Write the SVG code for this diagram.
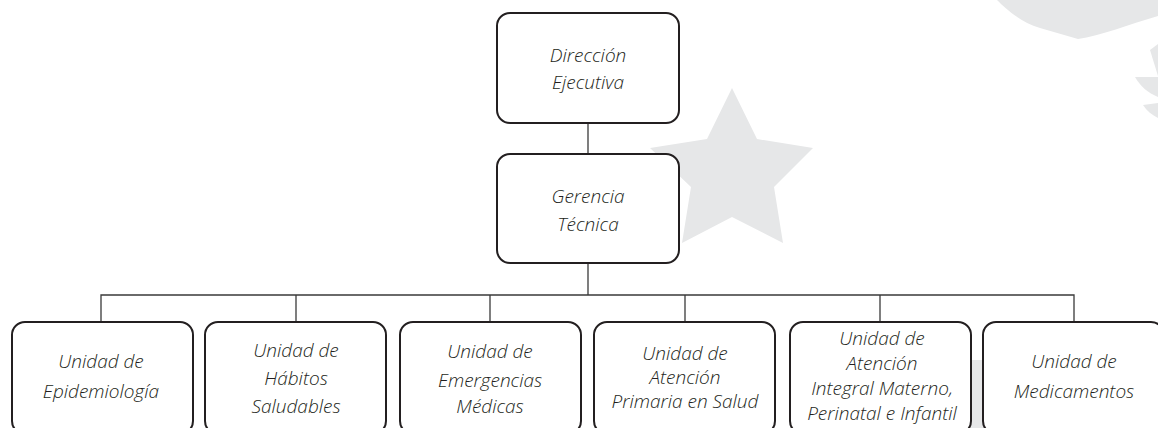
<svg xmlns="http://www.w3.org/2000/svg" width="1158" height="428" viewBox="0 0 1158 428">
<style>
.bg{fill:#e6e7e8;stroke:none}
.box{fill:#ffffff;stroke:#231f20;stroke-width:2}
.conn{fill:none;stroke:#3a3a3a;stroke-width:1.3}
.t{font-family:"Open Sans","Liberation Sans",sans-serif;font-style:italic;font-weight:300;font-size:19px;fill:#231f20;text-anchor:middle}
</style>
<rect width="1158" height="428" fill="#ffffff"/>
<g id="background">
<polygon class="bg" points="732,88 757,139 813,148 774,187 783,243 732,217 682,243 691,187 650,148 707,139"/>
<path class="bg" d="M997,0 C1005,8 1020,22 1040,28 L1078,39 C1100,36 1130,24 1158,16 L1158,0 Z"/>
<circle cx="1134" cy="33" r="6" fill="#ffffff"/>
<path class="bg" d="M1150,50 L1158,44 L1158,76 Z"/>
<path class="bg" d="M1135,77 L1158,77 L1158,97 C1148,93 1140,86 1135,77 Z"/>
<path class="bg" d="M1143,105 L1158,103 L1158,118 C1152,115 1147,111 1143,105 Z"/>
<path class="bg" d="M962,360 L990,360 L992,428 L960,428 Z"/>
</g>
<g id="connectors">
<line class="conn" x1="588" y1="123" x2="588" y2="154"/>
<line class="conn" x1="588" y1="263" x2="588" y2="295"/>
<polyline class="conn" points="101,322 101,295 1074,295 1074,322"/>
<line class="conn" x1="296" y1="295" x2="296" y2="322"/>
<line class="conn" x1="490" y1="295" x2="490" y2="322"/>
<line class="conn" x1="685" y1="295" x2="685" y2="322"/>
<line class="conn" x1="880" y1="295" x2="880" y2="322"/>
</g>
<g id="direccion">
<rect class="box" x="497" y="13" width="182" height="110" rx="13"/>
<text class="t" x="588" y="62">Dirección</text>
<text class="t" x="588" y="89">Ejecutiva</text>
</g>
<g id="gerencia">
<rect class="box" x="497" y="154" width="182" height="109" rx="13"/>
<text class="t" x="588" y="203">Gerencia</text>
<text class="t" x="588" y="231">Técnica</text>
</g>
<g id="epidemiologia">
<rect class="box" x="12" y="322" width="181" height="112" rx="13"/>
<text class="t" x="101" y="368">Unidad de</text>
<text class="t" x="101" y="398">Epidemiología</text>
</g>
<g id="habitos">
<rect class="box" x="205" y="322" width="181" height="112" rx="13"/>
<text class="t" x="296" y="357">Unidad de</text>
<text class="t" x="296" y="385">Hábitos</text>
<text class="t" x="296" y="413">Saludables</text>
</g>
<g id="emergencias">
<rect class="box" x="400" y="322" width="181" height="112" rx="13"/>
<text class="t" x="490" y="358">Unidad de</text>
<text class="t" x="490" y="387">Emergencias</text>
<text class="t" x="490" y="413">Médicas</text>
</g>
<g id="atencion-primaria">
<rect class="box" x="594" y="322" width="181" height="112" rx="13"/>
<text class="t" x="685" y="360">Unidad de</text>
<text class="t" x="685" y="384">Atención</text>
<text class="t" x="685" y="408">Primaria en Salud</text>
</g>
<g id="materno">
<rect class="box" x="790" y="322" width="181" height="112" rx="13"/>
<text class="t" x="882" y="345">Unidad de</text>
<text class="t" x="882" y="370">Atención</text>
<text class="t" x="882" y="395">Integral Materno,</text>
<text class="t" x="882" y="420">Perinatal e Infantil</text>
</g>
<g id="medicamentos">
<rect class="box" x="983" y="322" width="181" height="112" rx="13"/>
<text class="t" x="1074" y="368">Unidad de</text>
<text class="t" x="1074" y="398">Medicamentos</text>
</g>
</svg>
